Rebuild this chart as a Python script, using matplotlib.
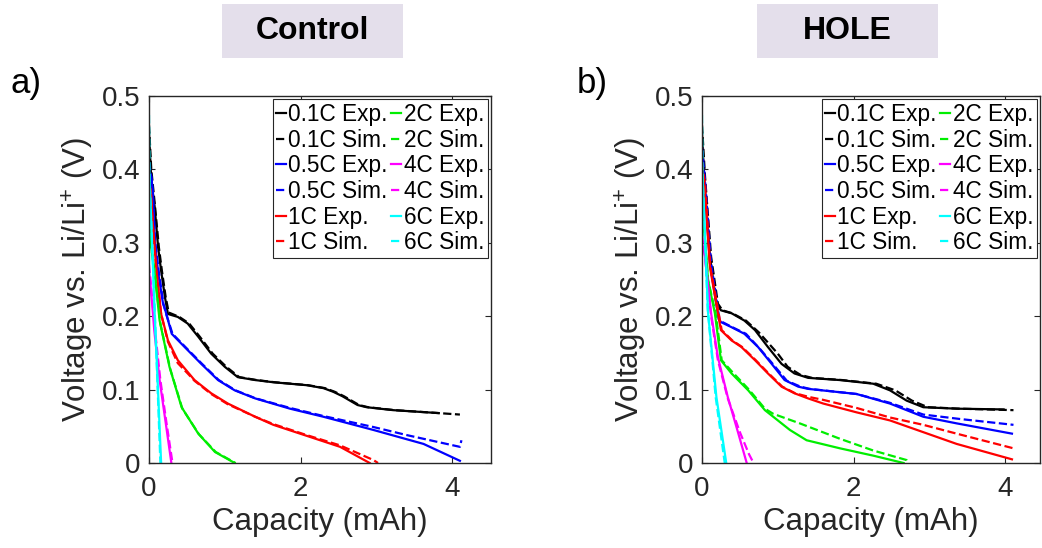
import matplotlib
matplotlib.use('Agg')
import matplotlib.pyplot as plt
from matplotlib.patches import Rectangle

plt.rcParams['font.family'] = ['Liberation Sans', 'DejaVu Sans']
plt.rcParams['mathtext.fontset'] = 'custom'
plt.rcParams['mathtext.rm'] = 'Liberation Sans'
plt.rcParams['mathtext.it'] = 'Liberation Sans:italic'

rates = ['0.1C', '0.5C', '1C', '2C', '4C', '6C']
colors = ['k', 'b', 'r', '#00ee00', '#ff00ff', '#00ffff']

# ---- Control: experiment ----
ctl_exp_x = [
    [0.0, 0.03, 0.075, 0.12, 0.16, 0.21, 0.25, 0.38, 0.51, 0.65, 0.82, 1.0, 1.17, 1.40, 1.64, 2.08, 2.30, 2.43, 2.55, 2.65, 2.75, 2.87, 3.22, 3.82],
    [0.0, 0.03, 0.05, 0.075, 0.12, 0.185, 0.21, 0.30, 0.47, 0.69, 0.91, 1.13, 1.40, 1.86, 2.30, 2.96, 3.62, 4.10],
    [0.0, 0.03, 0.05, 0.10, 0.16, 0.25, 0.38, 0.60, 0.82, 1.04, 1.40, 1.64, 2.08, 2.52, 2.91],
    [0.0, 0.01, 0.03, 0.075, 0.14, 0.27, 0.43, 0.65, 0.87, 1.13],
    [0.0, 0.02, 0.07, 0.14, 0.22, 0.295],
    [0.0, 0.01, 0.075, 0.16],
]
ctl_exp_y = [
    [0.45, 0.385, 0.349, 0.294, 0.262, 0.226, 0.203, 0.199, 0.19, 0.172, 0.149, 0.131, 0.117, 0.113, 0.110, 0.106, 0.102, 0.097, 0.091, 0.085, 0.079, 0.076, 0.072, 0.068],
    [0.40, 0.39, 0.37, 0.303, 0.26, 0.217, 0.21, 0.176, 0.158, 0.135, 0.113, 0.099, 0.088, 0.074, 0.063, 0.045, 0.026, 0.003],
    [0.39, 0.362, 0.326, 0.26, 0.203, 0.167, 0.14, 0.113, 0.095, 0.081, 0.063, 0.052, 0.037, 0.022, 0.0],
    [0.40, 0.36, 0.294, 0.258, 0.194, 0.131, 0.076, 0.040, 0.015, 0.0],
    [0.26, 0.244, 0.18, 0.113, 0.055, 0.0],
    [0.40, 0.38, 0.204, 0.0],
]
# ---- Control: simulation ----
ctl_sim_x = [
    [0.0, 0.03, 0.08, 0.13, 0.17, 0.22, 0.26, 0.40, 0.53, 0.67, 0.84, 1.02, 1.19, 1.42, 1.66, 2.10, 2.32, 2.45, 2.57, 2.67, 2.77, 2.89, 3.24, 3.82, 4.10],
    [0.0, 0.03, 0.05, 0.08, 0.13, 0.19, 0.22, 0.31, 0.48, 0.70, 0.92, 1.14, 1.41, 1.86, 2.30, 2.96, 3.40, 4.10, 4.12],
    [0.0, 0.03, 0.05, 0.10, 0.16, 0.25, 0.38, 0.51, 0.60, 0.82, 1.04, 1.40, 1.64, 2.08, 2.52, 2.96, 3.02],
    [0.0, 0.01, 0.03, 0.08, 0.15, 0.28, 0.44, 0.66, 0.88, 1.14],
    [0.0, 0.02, 0.08, 0.15, 0.23, 0.31],
    [0.0, 0.005, 0.01, 0.075, 0.15],
]
ctl_sim_y = [
    [0.46, 0.40, 0.349, 0.294, 0.262, 0.226, 0.205, 0.199, 0.19, 0.172, 0.149, 0.131, 0.117, 0.113, 0.110, 0.106, 0.102, 0.097, 0.091, 0.085, 0.079, 0.076, 0.072, 0.068, 0.066],
    [0.41, 0.39, 0.37, 0.303, 0.26, 0.217, 0.205, 0.176, 0.158, 0.135, 0.113, 0.099, 0.088, 0.075, 0.064, 0.049, 0.038, 0.022, 0.031],
    [0.39, 0.362, 0.326, 0.26, 0.203, 0.165, 0.136, 0.122, 0.112, 0.094, 0.080, 0.063, 0.053, 0.038, 0.024, 0.004, 0.0],
    [0.40, 0.36, 0.294, 0.256, 0.19, 0.128, 0.074, 0.039, 0.015, 0.0],
    [0.27, 0.25, 0.18, 0.113, 0.055, 0.0],
    [0.474, 0.43, 0.38, 0.21, 0.0],
]

# ---- HOLE: experiment ----
hole_exp_x = [
    [0.0, 0.03, 0.105, 0.19, 0.25, 0.39, 0.56, 0.70, 0.87, 1.05, 1.22, 1.40, 1.82, 2.26, 2.48, 2.70, 2.92, 3.36, 3.98],
    [0.0, 0.03, 0.105, 0.22, 0.25, 0.39, 0.56, 0.74, 0.92, 1.09, 1.27, 1.40, 2.04, 2.48, 2.92, 3.36, 4.09],
    [0.0, 0.03, 0.105, 0.21, 0.25, 0.39, 0.52, 0.70, 0.87, 1.05, 1.22, 1.40, 1.60, 2.04, 2.48, 2.92, 3.36, 4.09],
    [0.0, 0.02, 0.08, 0.17, 0.25, 0.39, 0.61, 0.83, 1.05, 1.16, 1.38, 1.82, 2.26, 2.66],
    [0.0, 0.035, 0.12, 0.21, 0.34, 0.48, 0.59],
    [0.0, 0.01, 0.08, 0.19, 0.32],
]
hole_exp_y = [
    [0.45, 0.385, 0.281, 0.217, 0.208, 0.204, 0.194, 0.181, 0.158, 0.135, 0.122, 0.116, 0.113, 0.108, 0.099, 0.085, 0.076, 0.074, 0.073],
    [0.42, 0.385, 0.272, 0.196, 0.192, 0.185, 0.176, 0.158, 0.135, 0.113, 0.104, 0.101, 0.094, 0.081, 0.063, 0.054, 0.040],
    [0.40, 0.38, 0.267, 0.204, 0.181, 0.167, 0.158, 0.14, 0.122, 0.104, 0.095, 0.088, 0.081, 0.069, 0.058, 0.042, 0.026, 0.005],
    [0.40, 0.33, 0.249, 0.204, 0.14, 0.122, 0.099, 0.072, 0.054, 0.045, 0.031, 0.020, 0.010, 0.0],
    [0.30, 0.285, 0.204, 0.144, 0.09, 0.040, 0.0],
    [0.40, 0.385, 0.204, 0.09, 0.0],
]
# ---- HOLE: simulation ----
hole_sim_x = [
    [0.0, 0.04, 0.12, 0.21, 0.27, 0.40, 0.58, 0.75, 1.0, 1.13, 1.30, 1.45, 1.85, 2.30, 2.55, 2.77, 2.98, 3.40, 4.11],
    [0.0, 0.04, 0.12, 0.23, 0.27, 0.40, 0.58, 0.76, 0.95, 1.12, 1.30, 1.42, 2.04, 2.48, 2.92, 3.40, 4.11],
    [0.0, 0.04, 0.11, 0.22, 0.26, 0.40, 0.53, 0.71, 0.88, 1.06, 1.23, 1.41, 1.60, 2.04, 2.48, 2.92, 3.36, 4.11],
    [0.0, 0.02, 0.08, 0.18, 0.26, 0.40, 0.62, 0.83, 0.94, 1.29, 1.82, 2.26, 2.70, 2.72],
    [0.0, 0.035, 0.12, 0.21, 0.34, 0.50, 0.62, 0.68],
    [0.0, 0.005, 0.01, 0.075, 0.18, 0.30],
]
hole_sim_y = [
    [0.46, 0.39, 0.281, 0.217, 0.208, 0.204, 0.194, 0.178, 0.149, 0.131, 0.120, 0.116, 0.113, 0.108, 0.099, 0.085, 0.076, 0.074, 0.072],
    [0.43, 0.385, 0.272, 0.196, 0.192, 0.185, 0.176, 0.156, 0.133, 0.112, 0.104, 0.101, 0.094, 0.082, 0.066, 0.060, 0.052],
    [0.41, 0.38, 0.267, 0.204, 0.181, 0.167, 0.158, 0.14, 0.122, 0.104, 0.095, 0.090, 0.086, 0.075, 0.062, 0.052, 0.040, 0.020],
    [0.40, 0.33, 0.249, 0.204, 0.14, 0.124, 0.100, 0.074, 0.067, 0.054, 0.033, 0.017, 0.004, 0.0],
    [0.31, 0.285, 0.20, 0.14, 0.088, 0.042, 0.012, 0.0],
    [0.474, 0.43, 0.385, 0.21, 0.09, 0.0],
]

panels = [
    ('Control', 'a)', ctl_exp_x, ctl_exp_y, ctl_sim_x, ctl_sim_y),
    ('HOLE', 'b)', hole_exp_x, hole_exp_y, hole_sim_x, hole_sim_y),
]

fig = plt.figure(figsize=(10.42, 5.48), dpi=100)
ax_rects = [[149 / 1042, 85 / 548, 342 / 1042, 367 / 548],
            [702 / 1042, 85 / 548, 338 / 1042, 367 / 548]]
xmaxes = [4.51, 4.46]
title_x = [312.5 / 1042, 847.5 / 1042]
letter_x = [10 / 1042, 577 / 1042]
axcol = '#262626'

for i, (title, letter, ex, ey, sx, sy) in enumerate(panels):
    ax = fig.add_axes(ax_rects[i])
    for k in range(len(rates)):
        ax.plot(ex[k], ey[k], '-', color=colors[k], lw=1.6, label=f'{rates[k]} Exp.')
        ax.plot(sx[k], sy[k], '--', color=colors[k], lw=1.6, label=f'{rates[k]} Sim.')
    ax.set_xlim(0, xmaxes[i])
    ax.set_ylim(0, 0.5)
    ax.set_xticks([0, 2, 4])
    ax.set_xticklabels(['0', '2', '4'])
    ax.set_yticks([0, 0.1, 0.2, 0.3, 0.4, 0.5])
    ax.set_yticklabels(['0', '0.1', '0.2', '0.3', '0.4', '0.5'])
    ax.tick_params(direction='in', top=True, right=True, length=4, width=0.8,
                   labelsize=20, colors=axcol)
    ax.tick_params(axis='x', pad=9)
    ax.tick_params(axis='y', pad=6)
    for sp in ax.spines.values():
        sp.set_color(axcol)
        sp.set_linewidth(1.0)
    ax.set_xlabel('Capacity (mAh)', fontsize=22.5, color=axcol, labelpad=4)
    ax.set_ylabel('Voltage vs. Li/Li$^{+}$ (V)', fontsize=22.5, color=axcol, labelpad=4)

    leg = ax.legend(ncol=2, loc='upper right', fontsize=16.3, handlelength=0.45,
                    handletextpad=0.1, columnspacing=0.15, labelspacing=0.12,
                    borderpad=0.15, borderaxespad=0.15, fancybox=False, framealpha=1)
    leg.get_frame().set_edgecolor(axcol)
    leg.get_frame().set_linewidth(0.8)

    # title box
    fig.patches.append(Rectangle((title_x[i] - 90.5 / 1042, 1 - 58 / 548), 181 / 1042, 54 / 548,
                                 transform=fig.transFigure, facecolor='#e4dfeb',
                                 edgecolor='none', zorder=0))
    fig.text(title_x[i], 1 - 31 / 548, title, fontsize=23, fontweight='bold',
             ha='center', va='center')
    fig.text(letter_x[i], 1 - 84 / 548, letter, fontsize=25, ha='left', va='center')

fig.savefig('out.png', dpi=100)
